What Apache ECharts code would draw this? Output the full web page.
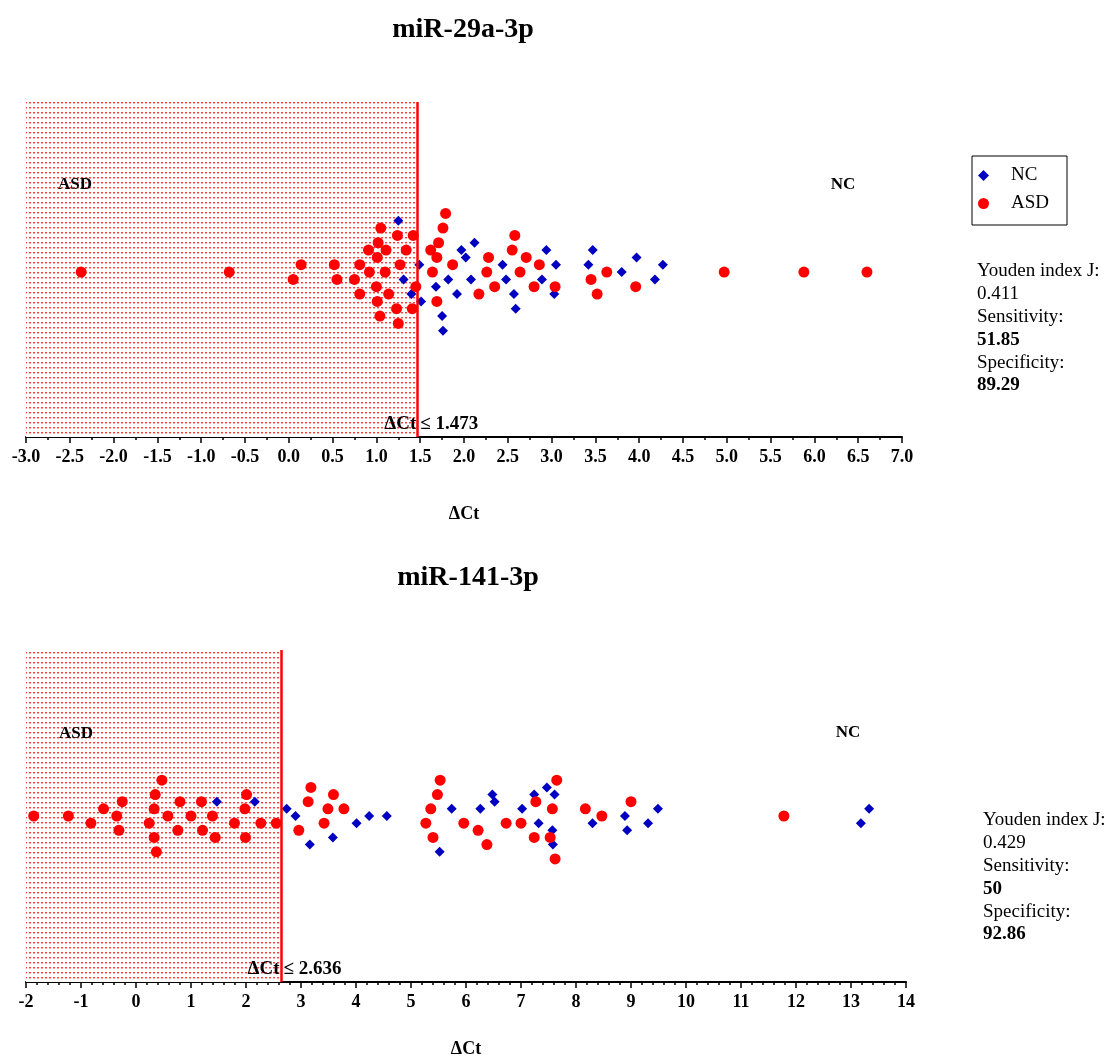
<!DOCTYPE html>
<html>
<head>
<meta charset="utf-8">
<script src="https://cdn.jsdelivr.net/npm/echarts@6/dist/echarts.min.js"></script>
<style>
html,body{margin:0;padding:0;background:#fff;}
#chart{width:1118px;height:1059px;}
</style>
</head>
<body>
<div id="chart"></div>
<script>
// ---------- DATA ----------
// miR-29a-3p (top panel): ΔCt values and beeswarm row offsets
const asd29X   = [-2.37,-0.68,0.14,0.05,0.52,0.55,0.75,0.81,0.81,0.91,0.92,1.01,1.02,1.05,1.11,1.10,1.00,1.01,1.14,1.04,1.23,1.25,1.24,1.34,1.27,1.42,1.41,1.45,1.79,1.76,1.71,1.62,1.69,1.64,1.87,1.69,2.28,2.26,2.17,2.35,2.58,2.55,2.64,2.71,2.80,2.86,3.04,3.45,3.52,3.63,3.96,4.97,5.88,6.60];
const asd29Row = [0,0,1,-1,1,-1,-1,1,-3,3,0,2,4,6,3,0,-2,-4,-3,-6,-5,-7,5,3,1,5,-5,-2,8,6,4,3,2,0,1,-4,2,0,-3,-2,5,3,0,2,-2,1,-2,-1,-3,0,-2,0,0,0];
const nc29X    = [1.25,1.31,1.40,1.49,1.51,1.68,1.75,1.76,1.82,1.92,1.97,2.02,2.12,2.08,2.44,2.48,2.57,2.59,2.89,2.94,3.05,3.03,3.42,3.47,3.80,3.97,4.18,4.27];
const nc29Row  = [7,-1,-3,1,-4,-2,-6,-8,-1,-3,3,2,4,-1,1,-1,-3,-5,-1,3,1,-3,1,3,0,2,-1,1];
const thr29 = 1.473;
const stats29 = {j:'0.411', sens:'51.85', spec:'89.29'};

// miR-141-3p (bottom panel)
const asd141X   = [-1.86,-1.23,-0.82,-0.59,-0.25,-0.35,-0.31,0.47,0.35,0.33,0.24,0.33,0.37,0.58,0.80,0.76,1.00,1.19,1.21,1.39,1.44,1.79,2.01,1.98,1.99,2.27,2.55,3.18,3.13,2.96,3.59,3.49,3.78,3.42,5.53,5.48,5.36,5.27,5.40,5.96,6.22,6.38,6.73,7.00,7.27,7.24,7.57,7.53,7.65,7.62,8.17,8.47,9.00,11.78];
const asd141Row = [0,0,-1,1,2,0,-2,5,3,1,-1,-3,-5,0,2,-2,0,2,-2,0,-3,-1,3,1,-3,-1,-1,4,2,-2,3,1,1,-1,5,3,1,-1,-3,-1,-2,-4,-1,-1,2,-3,1,-3,5,-6,1,0,2,0];
const nc141X    = [1.47,2.16,2.74,2.90,3.16,3.58,4.01,4.24,4.56,5.74,5.52,6.26,6.48,6.52,7.02,7.24,7.32,7.47,7.61,7.57,7.58,8.30,8.89,8.93,9.31,9.49,13.18,13.33];
const nc141Row  = [2,2,1,0,-4,-3,-1,0,0,1,-5,1,3,2,1,3,-1,4,3,-2,-4,-1,0,-2,-1,1,-1,1];
const thr141 = 2.636;
const stats141 = {j:'0.429', sens:'50', spec:'92.86'};

const titles = ['miR-29a-3p','miR-141-3p'];
const axisName = 'ΔCt';

// ---------- CHART ----------
const FONT = "'Liberation Serif','Times New Roman',serif";
const zip = (xs, ys) => xs.map((x, i) => [x, ys[i]]);

const pc = document.createElement('canvas');
pc.width = 4; pc.height = 5;
const pctx = pc.getContext('2d');
pctx.fillStyle = '#ffffff';
pctx.fillRect(0, 0, 4, 5);
pctx.fillStyle = 'rgb(255,60,60)';
pctx.fillRect(1, 2, 2, 1);
pctx.fillStyle = 'rgb(255,170,170)';
pctx.fillRect(1, 3, 2, 1);

function xAxisCfg(gi, min, max, interval, minorSplit, nameGap, fmt) {
  return {
    gridIndex: gi, type: 'value', min: min, max: max, interval: interval,
    axisLine: {show: true, onZero: false, lineStyle: {color: '#000', width: 2}},
    axisTick: {show: true, length: 6, lineStyle: {color: '#000', width: 1.5}},
    minorTick: {show: true, splitNumber: minorSplit, length: 3, lineStyle: {color: '#000', width: 1.5}},
    splitLine: {show: false}, minorSplitLine: {show: false},
    axisLabel: {color: '#000', fontFamily: FONT, fontWeight: 'bold', fontSize: 18, margin: 11, formatter: fmt},
    name: axisName, nameLocation: 'middle', nameGap: nameGap,
    nameTextStyle: {color: '#000', fontFamily: FONT, fontWeight: 'bold', fontSize: 18}
  };
}

function seriesFor(gi, ncX, ncRow, asdX, asdRow, minX, thr) {
  return [
    {type: 'scatter', name: 'NC', xAxisIndex: gi, yAxisIndex: gi, symbol: 'diamond', symbolSize: 10,
     itemStyle: {color: '#0000c0', opacity: 1}, data: zip(ncX, ncRow), z: 3},
    {type: 'scatter', name: 'ASD', xAxisIndex: gi, yAxisIndex: gi, symbol: 'circle', symbolSize: 11,
     itemStyle: {color: '#ff0000', opacity: 1}, data: zip(asdX, asdRow), z: 4,
     markArea: {silent: true, itemStyle: {color: {image: pc, repeat: 'repeat'}, opacity: 1},
                data: [[{xAxis: minX}, {xAxis: thr}]]},
     markLine: {silent: true, symbol: 'none', animation: false,
                lineStyle: {color: '#ff0000', width: 2.5, type: 'solid', opacity: 1},
                label: {show: false}, data: [{xAxis: thr}]}}
  ];
}

const chart = echarts.init(document.getElementById('chart'), null, {renderer: 'canvas'});
const option = {
  animation: false,
  backgroundColor: '#fff',
  grid: [
    {left: 26, top: 102, width: 876, height: 335},
    {left: 26, top: 650, width: 880, height: 340}
  ],
  xAxis: [
    xAxisCfg(0, -3, 7, 0.5, 2, 68, v => v.toFixed(1)),
    xAxisCfg(1, -2, 14, 1, 5, 58, v => String(v))
  ],
  yAxis: [
    {gridIndex: 0, type: 'value', min: -22.5, max: 23.2, show: false},
    {gridIndex: 1, type: 'value', min: -23.2, max: 23.2, show: false}
  ],
  legend: {
    orient: 'vertical', left: 972, top: 156,
    borderColor: '#000', borderWidth: 1, padding: [10, 18, 12, 6],
    itemGap: 9, itemWidth: 11, itemHeight: 11,
    textStyle: {color: '#000', fontFamily: FONT, fontSize: 19, padding: [0, 0, 0, 17]},
    data: [{name: 'NC', icon: 'diamond'}, {name: 'ASD', icon: 'circle'}]
  },
  series: [].concat(
    seriesFor(0, nc29X, nc29Row, asd29X, asd29Row, -3, thr29),
    seriesFor(1, nc141X, nc141Row, asd141X, asd141Row, -2, thr141)
  )
};
chart.setOption(option);

function txt(x, y, text, font, align, valign) {
  return {type: 'text', x: x, y: y, z: 10, silent: true,
          style: {text: text, font: font, fill: '#000',
                  align: align, verticalAlign: valign,
                  textAlign: align, textVerticalAlign: valign}};
}
const bold = s => 'bold ' + s + 'px ' + FONT;
const reg = s => s + 'px ' + FONT;

const g = [];
g.push(txt(463, 30, titles[0], bold(28), 'center', 'middle'));
g.push(txt(468, 578, titles[1], bold(28), 'center', 'middle'));
g.push(txt(75, 185, 'ASD', bold(17), 'center', 'middle'));
g.push(txt(843, 185, 'NC', bold(17), 'center', 'middle'));
g.push(txt(76, 734, 'ASD', bold(17), 'center', 'middle'));
g.push(txt(848, 733, 'NC', bold(17), 'center', 'middle'));

function thrLabel(gi, thr, ymin) {
  const p = chart.convertToPixel({gridIndex: gi}, [thr, ymin]);
  g.push(txt(p[0] - 1.5, p[1] - 3, 'ΔCt', bold(19), 'right', 'bottom'));
  g.push(txt(p[0] + 2.5, p[1] - 3, '≤ ' + thr, bold(19), 'left', 'bottom'));
}
thrLabel(0, thr29, -22.5);
thrLabel(1, thr141, -23.2);

function statBlock(x, y0, st) {
  const lines = [['Youden index J:', false], [st.j, false], ['Sensitivity:', false],
                 [st.sens, true], ['Specificity:', false], [st.spec, true]];
  lines.forEach((l, i) => {
    g.push(txt(x, y0 + i * 22.9, l[0], l[1] ? bold(19) : reg(19), 'left', 'middle'));
  });
}
statBlock(977, 271, stats29);
statBlock(983, 820, stats141);

chart.setOption({graphic: g});
</script>
</body>
</html>
